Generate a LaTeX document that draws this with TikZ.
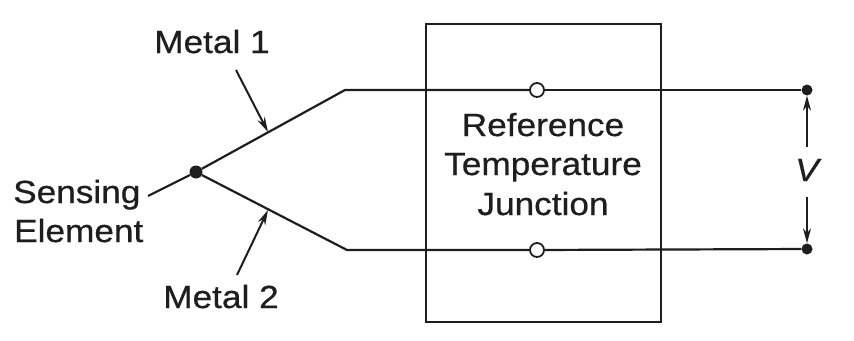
\documentclass[tikz,border=0pt]{standalone}
\usepackage{fontspec}
\setmainfont{Liberation Sans}[FakeStretch=1.1,FakeBold=0.6]
\usetikzlibrary{arrows.meta}
\definecolor{ink}{HTML}{1E1E1E}
\begin{document}
\begin{tikzpicture}[x=1pt,y=-1pt,
  wire/.style={draw=ink,line width=2.2pt},
  lbl/.style={text=ink,font=\fontsize{32}{40}\selectfont,inner sep=0pt},
  dotn/.style={circle,fill=ink,inner sep=0pt,minimum size=#1},
  ring/.style={circle,draw=ink,line width=1.8pt,fill=white,inner sep=0pt,minimum size=14pt},
  ptr/.style={draw=ink,line width=2pt,-{Stealth[length=15pt,width=8pt]}}]
\useasboundingbox (0,0) rectangle (854,340);
\fill[white] (0,0) rectangle (854,340);

\node[draw=ink,line width=2.2pt,minimum width=235pt,minimum height=298pt,inner sep=0pt] (box) at (543.5,173) {};

\node[dotn=13pt] (sj) at (196,172) {};
\coordinate (st) at (148,196);
\coordinate (b1) at (345,90);
\coordinate (b2) at (347,250);
\node[ring] (c1) at (537,90) {};
\node[ring] (c2) at (537,250) {};
\node[dotn=11pt] (d1) at (807,90) {};
\node[dotn=11pt] (d2) at (807,249) {};

\draw[wire] (st) -- (sj);
\draw[wire] (sj) -- (b1) -- (c1);
\draw[wire] (c1) -- (d1);
\draw[wire] (sj) -- (b2) -- (c2);
\draw[wire] (c2) -- (d2);

\coordinate (m1t) at (236,70);
\coordinate (m1h) at (268,132);
\draw[ptr] (m1t) -- (m1h);
\coordinate (m2t) at (237,275);
\coordinate (m2h) at (268,210);
\draw[ptr] (m2t) -- (m2h);

\coordinate (vt1) at (807,147);
\coordinate (vt2) at (807,197);
\draw[ptr] (vt1) -- (d1);
\draw[ptr] (vt2) -- (d2);
\node[lbl,font=\fontsize{32}{40}\selectfont\itshape] (v) at (807,170) {V};

\node[lbl,anchor=base] (metal1) at (212,53) {Metal 1};
\node[lbl,anchor=base] (metal2) at (221,308) {Metal 2};
\node[lbl,anchor=base west] (sens) at (13,203) {Sensing};
\node[lbl,anchor=base west] (elem) at (14,242) {Element};
\node[lbl,anchor=base] (r1) at (543,136) {Reference};
\node[lbl,anchor=base] (r2) at (543,175) {Temperature};
\node[lbl,anchor=base] (r3) at (543,215) {Junction};
\end{tikzpicture}
\end{document}
